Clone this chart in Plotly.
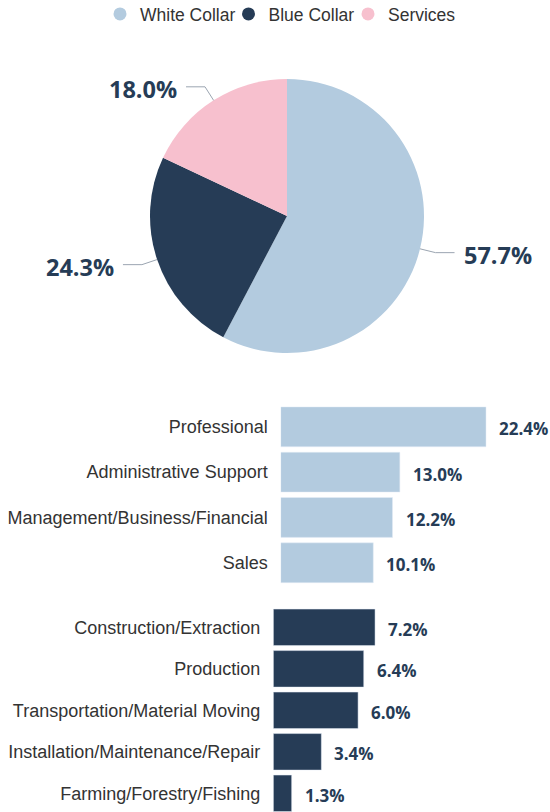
import math
import plotly.graph_objects as go

# ---- data -------------------------------------------------------------
groups = ["White Collar", "Blue Collar", "Services"]
group_share = [57.7, 24.3, 18.0]

white_jobs = ["Professional", "Administrative Support",
              "Management/Business/Financial", "Sales"]
white_share = [22.4, 13.0, 12.2, 10.1]

blue_jobs = ["Construction/Extraction", "Production",
             "Transportation/Material Moving",
             "Installation/Maintenance/Repair", "Farming/Forestry/Fishing"]
blue_share = [7.2, 6.4, 6.0, 3.4, 1.3]

# ---- styling ----------------------------------------------------------
W, H = 550, 812
LIGHT = "#b3cbdf"
NAVY = "#263c56"
PINK = "#f7c0ce"
group_colors = [LIGHT, NAVY, PINK]
LEADER = "#9ba5b1"
SANS = "Liberation Sans, Arial, sans-serif"
TICK_FONT = dict(family=SANS, size=18, color="#333333")
LEGEND_FONT = dict(family=SANS, size=17.5, color="#333333")
VALUE_FONT = dict(family="Open Sans, Noto Sans, sans-serif", size=17, color=NAVY, weight="bold")
PIE_FONT = dict(family="Open Sans, Noto Sans, sans-serif", size=23.5, color=NAVY, weight="bold")

# pie geometry in pixels
PIE_CX, PIE_CY, PIE_R = 287, 216, 137
LEAD1, LEAD2, LABEL_GAP = 16, 19, 7

# left edge (px) of each legend entry
LEGEND_LEFT = [100, 228.5, 348]


def px_x(x):
    return x / W


def px_y(y):
    return 1 - y / H


fig = go.Figure()

fig.add_trace(go.Pie(
    labels=groups, values=group_share, sort=False, direction="clockwise",
    rotation=0, marker=dict(colors=group_colors, line=dict(width=0)),
    textinfo="none", hoverinfo="label+percent", showlegend=False,
    domain=dict(x=[px_x(PIE_CX - PIE_R), px_x(PIE_CX + PIE_R)],
                y=[px_y(PIE_CY + PIE_R), px_y(PIE_CY - PIE_R)]),
))

# legend entries drawn as circular markers, one legend box per entry
legend_ids = ["legend", "legend2", "legend3"]
for name, col, lid in zip(groups, group_colors, legend_ids):
    fig.add_trace(go.Scatter(
        x=[None], y=[None], mode="markers", name=name,
        marker=dict(symbol="circle", size=13, color=col),
        xaxis="x", yaxis="y", showlegend=True, legend=lid,
    ))

fig.add_trace(go.Bar(
    x=white_share, y=white_jobs, orientation="h", marker_color=LIGHT,
    xaxis="x", yaxis="y", showlegend=False, hoverinfo="x+y",
))
fig.add_trace(go.Bar(
    x=blue_share, y=blue_jobs, orientation="h", marker_color=NAVY,
    xaxis="x2", yaxis="y2", showlegend=False, hoverinfo="x+y",
))

annotations = []
shapes = []

# pie leader lines and percentage labels
total = sum(group_share)
start = 0.0
for v in group_share:
    mid = (start + v / 2) / total * 2 * math.pi
    start += v
    sx, cy = math.sin(mid), math.cos(mid)
    x0, y0 = PIE_CX + PIE_R * sx, PIE_CY - PIE_R * cy
    x1, y1 = PIE_CX + (PIE_R + LEAD1) * sx, PIE_CY - (PIE_R + LEAD1) * cy
    side = 1 if sx >= 0 else -1
    x2 = x1 + side * LEAD2
    shapes.append(dict(
        type="path", xref="paper", yref="paper",
        path=f"M {px_x(x0)},{px_y(y0)} L {px_x(x1)},{px_y(y1)} L {px_x(x2)},{px_y(y1)}",
        line=dict(color=LEADER, width=1),
    ))
    annotations.append(dict(
        x=px_x(x2 + side * LABEL_GAP), y=px_y(y1), xref="paper", yref="paper",
        text=f"{v:.1f}%", showarrow=False, font=PIE_FONT,
        xanchor="left" if side > 0 else "right", yanchor="middle", yshift=-2,
    ))

# bar value labels
for jobs, vals, xa, ya in ((white_jobs, white_share, "x", "y"),
                           (blue_jobs, blue_share, "x2", "y2")):
    for j, v in zip(jobs, vals):
        annotations.append(dict(
            x=v, y=j, xref=xa, yref=ya, text=f"{v:.1f}%", showarrow=False,
            font=VALUE_FONT, xanchor="left", yanchor="middle",
            xshift=11, yshift=-2,
        ))

hidden_x = dict(showgrid=False, zeroline=False, showline=False,
                showticklabels=False, ticks="", fixedrange=True)
cat_y = dict(showgrid=False, zeroline=False, showline=False, ticks="",
             tickfont=TICK_FONT, ticklabelstandoff=12, type="category",
             fixedrange=True, automargin=False)

legend_common = dict(orientation="h", y=1 + 4 / H, xanchor="left", yanchor="top",
                     font=LEGEND_FONT, itemsizing="trace",
                     bgcolor="rgba(0,0,0,0)", borderwidth=0)

fig.update_layout(
    width=W, height=H,
    margin=dict(l=0, r=0, t=0, b=0, autoexpand=False),
    paper_bgcolor="white", plot_bgcolor="white",
    bargap=0.12,
    xaxis=dict(domain=[px_x(280.7), 1], range=[0, 29.38], **hidden_x),
    yaxis=dict(domain=[px_y(585.4), px_y(404.2)], range=[3.5, -0.5],
               categoryorder="array", categoryarray=white_jobs, **cat_y),
    xaxis2=dict(domain=[px_x(273.3), 1], range=[0, 19.58], anchor="y2", **hidden_x),
    yaxis2=dict(domain=[0, px_y(606.6)], range=[4.45, -0.5], anchor="x2",
                categoryorder="array", categoryarray=blue_jobs, **cat_y),
    legend=dict(x=px_x(LEGEND_LEFT[0]), **legend_common),
    legend2=dict(x=px_x(LEGEND_LEFT[1]), **legend_common),
    legend3=dict(x=px_x(LEGEND_LEFT[2]), **legend_common),
    annotations=annotations,
    shapes=shapes,
    font=dict(family=SANS),
)

fig.write_html("out.html")
